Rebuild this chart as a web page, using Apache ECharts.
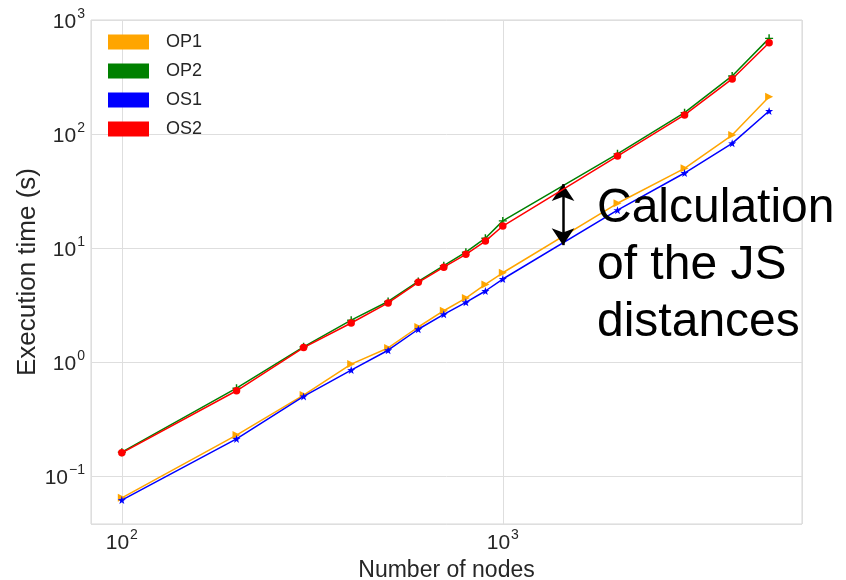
<!DOCTYPE html>
<html>
<head>
<meta charset="utf-8">
<script src="https://cdn.jsdelivr.net/npm/echarts@6/dist/echarts.min.js"></script>
<style>html,body{margin:0;padding:0;background:#fff}#c{width:846px;height:580px}</style>
</head>
<body>
<div id="c"></div>
<script>
const nodes = [100, 200, 300, 400, 500, 600, 700, 800, 900, 1000, 2000, 3000, 4000, 5000];
const op1 = [0.0645, 0.229, 0.514, 0.96, 1.33, 2.03, 2.82, 3.64, 4.8, 6.07, 24.7, 50, 98, 212];
const op2 = [0.162, 0.59, 1.36, 2.33, 3.4, 5.1, 7.0, 9.2, 12.2, 17.3, 67, 154, 323, 690];
const os1 = [0.0616, 0.212, 0.50, 0.85, 1.27, 1.94, 2.62, 3.34, 4.2, 5.35, 21.5, 45.5, 82.8, 159];
const os2 = [0.16, 0.56, 1.34, 2.2, 3.3, 5.0, 6.8, 8.8, 11.5, 15.6, 64, 147, 304, 631];
const seriesNames = ['OP1', 'OP2', 'OS1', 'OS2'];
const colors = ['#FFA500', '#008000', '#0000FF', '#FF0000'];
const arrowX = 1439;
const arrowY = [36.4, 10.6];
const annotationText = 'Calculation\nof the JS\ndistances';

const FONT = 'Liberation Sans, Arial, Helvetica, sans-serif';
const plus = 'path://M-1,-0.18L-0.18,-0.18L-0.18,-1L0.18,-1L0.18,-0.18L1,-0.18L1,0.18L0.18,0.18L0.18,1L-0.18,1L-0.18,0.18L-1,0.18Z';
const star = 'path://M0,-1L0.235,-0.324L0.951,-0.309L0.380,0.124L0.588,0.809L0,0.4L-0.588,0.809L-0.380,0.124L-0.951,-0.309L-0.235,-0.324Z';

function pair(vals) { return nodes.map((n, i) => [n, vals[i]]); }
function powLabel(v) {
  const e = Math.log10(v);
  const r = Math.round(e);
  if (Math.abs(e - r) > 1e-6) return '';
  return '{a|10}{b|' + (r < 0 ? '\u2212' + (-r) : r) + '}';
}
const rich = {
  a: {fontSize: 21, fontFamily: FONT, color: '#262626', lineHeight: 26, verticalAlign: 'bottom'},
  b: {fontSize: 14, fontFamily: FONT, color: '#262626', lineHeight: 26, verticalAlign: 'top', padding: [0, 0, 0, 1]}
};

const symbols = [
  {symbol: 'triangle', symbolRotate: -90, symbolSize: 8},
  {symbol: plus, symbolSize: 8},
  {symbol: star, symbolSize: 8},
  {symbol: 'circle', symbolSize: 7.5}
];
const data = [op1, op2, os1, os2];

const series = data.map((vals, i) => Object.assign({
  name: seriesNames[i],
  type: 'line',
  data: pair(vals),
  showSymbol: true,
  lineStyle: {width: 1.5, color: colors[i]},
  itemStyle: {color: colors[i]},
  z: 2 + i,
  animation: false
}, symbols[i]));

series.push({
  type: 'line',
  data: [],
  silent: true,
  animation: false,
  markLine: {
    silent: true,
    animation: false,
    symbol: ['arrow', 'arrow'],
    symbolSize: [17, 17],
    lineStyle: {color: '#000', width: 2.5, type: 'solid'},
    label: {show: false},
    data: [[{coord: [arrowX, arrowY[0]]}, {coord: [arrowX, arrowY[1]]}]]
  }
});

const chart = echarts.init(document.getElementById('c'), null, {renderer: 'canvas'});
chart.setOption({
  backgroundColor: '#fff',
  animation: false,
  grid: {left: 91, right: 44, top: 20, bottom: 56, show: true, borderColor: '#d6d6d6', borderWidth: 1, containLabel: false, outerBoundsMode: 'none'},
  legend: {
    orient: 'vertical', left: 103, top: 28,
    itemWidth: 41, itemHeight: 15, itemGap: 11,
    icon: 'rect',
    data: seriesNames.map((n, i) => ({name: n, itemStyle: {color: colors[i]}})),
    textStyle: {fontSize: 18, fontFamily: FONT, color: '#262626', padding: [0, 0, 0, 12]}
  },
  xAxis: {
    type: 'log', logBase: 10, min: 83, max: 6100,
    name: 'Number of nodes', nameLocation: 'middle', nameGap: 31,
    nameTextStyle: {fontSize: 23, fontFamily: FONT, color: '#262626'},
    axisLine: {show: false}, axisTick: {show: false},
    splitLine: {show: true, lineStyle: {color: '#dedede', width: 1}},
    minorSplitLine: {show: false},
    axisLabel: {margin: 4, formatter: powLabel, rich: rich, showMinLabel: false, showMaxLabel: false}
  },
  yAxis: {
    type: 'log', logBase: 10, min: 0.038, max: 1000,
    name: 'Execution time (s)', nameLocation: 'middle', nameGap: 50, nameMoveOverlap: false,
    nameTextStyle: {fontSize: 26, fontFamily: FONT, color: '#262626'},
    axisLine: {show: false}, axisTick: {show: false},
    splitLine: {show: true, lineStyle: {color: '#dedede', width: 1}},
    axisLabel: {margin: 6, formatter: powLabel, rich: rich, showMinLabel: false}
  },
  graphic: [{
    type: 'text', left: 597, top: 180, z: 100,
    style: {text: annotationText, font: '48px ' + FONT, fill: '#000', lineHeight: 57}
  }],
  series: series
});
</script>
</body>
</html>
